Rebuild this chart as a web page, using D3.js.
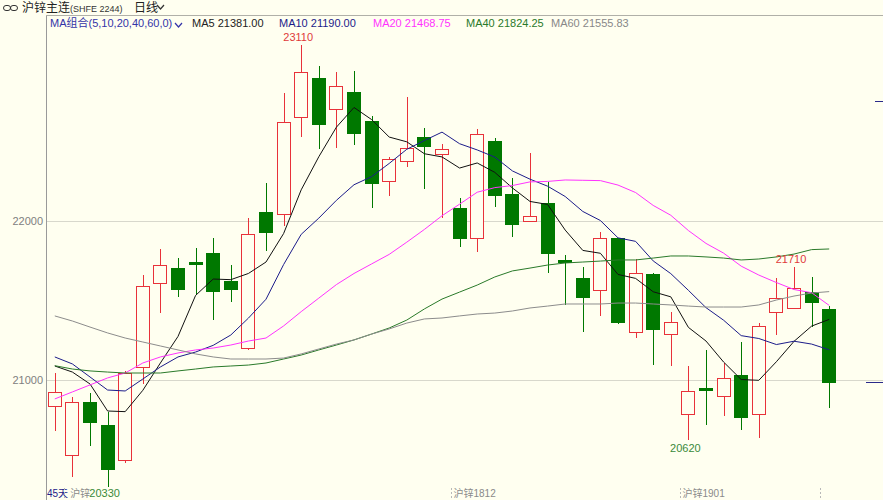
<!DOCTYPE html>
<html>
<head>
<meta charset="utf-8">
<script src="https://cdn.jsdelivr.net/npm/d3@7"></script>
<style>
  html, body { margin: 0; padding: 0; background: #fffff0; }
  svg { display: block; }
  text { font-family: "Liberation Sans", Arial, "Noto Sans CJK SC", sans-serif; }
</style>
</head>
<body>
<script>
// ---------- data ----------
const openP  = [20836,20528,20862,20717,20497,21082,21610,21704,21742,21799,21623,21201,22057,22044,22654,22899,22704,22811,22629,22252,22377,22528,22421,22082,21893,22503,22170,22000,22113,21755,21642,21566,21893,21302,21667,21289,20786,20950,20899,21031,20786,21428,21453,21553,21447];
const highP  = [21044,20893,20918,20799,21057,21660,21824,21767,21830,21893,21723,22019,22239,22805,23110,22975,22937,22943,22660,22403,22780,22585,22484,22145,22579,22522,22270,22428,22245,21786,21711,21931,21893,21761,21673,21428,21088,21189,21107,21239,21358,21642,21710,21648,21465];
const lowP   = [20679,20390,20585,20330,20478,20975,21421,21522,21535,21377,21491,21189,21811,21969,22528,22453,22459,22478,22082,22157,22340,22201,22019,21836,21805,22088,21899,22000,21673,21472,21302,21403,21352,21264,21094,21088,20620,20717,20774,20686,20635,21283,21453,21333,20824];
const closeP = [20925,20862,20736,20440,21044,21591,21723,21572,21730,21560,21572,21918,21931,22623,22937,22610,22849,22553,22239,22390,22459,22472,22453,21893,22547,22164,21981,22031,21799,21742,21522,21893,21365,21673,21321,21365,20931,20937,21013,20767,21340,21516,21579,21491,20987];

const ma5  = [21088,21050,20975,20805,20801,20935,21107,21274,21532,21635,21631,21670,21742,21921,22196,22404,22590,22714,22638,22528,22498,22423,22403,22333,22365,22306,22208,22123,22104,21943,21815,21797,21664,21639,21555,21523,21331,21245,21113,21003,20998,21115,21243,21339,21381];
const ma10 = [21145,21101,21019,20937,20931,21006,21082,21145,21176,21218,21283,21389,21508,21726,21916,22018,22130,22228,22279,22362,22451,22506,22559,22486,22447,22402,22315,22263,22219,22154,22060,22003,21894,21872,21749,21669,21564,21455,21376,21279,21261,21223,21244,21226,21190];
const ma20 = [20881,20925,20969,21013,21044,21107,21145,21170,21189,21201,21220,21245,21264,21340,21430,21515,21600,21670,21730,21790,21867,21947,22033,22106,22181,22210,22223,22246,22249,22258,22256,22254,22226,22179,22098,22036,21940,21859,21798,21716,21660,21613,21569,21549,21469];
const ma40 = [21090,21069,21057,21050,21044,21044,21044,21057,21069,21082,21088,21094,21107,21132,21157,21189,21220,21252,21289,21327,21377,21447,21509,21553,21597,21648,21686,21704,21723,21736,21742,21748,21755,21755,21767,21780,21780,21774,21767,21755,21761,21774,21792,21820,21824];
const ma60 = [21403,21371,21333,21296,21264,21239,21214,21189,21164,21145,21132,21132,21132,21138,21164,21195,21226,21252,21289,21321,21358,21384,21390,21403,21415,21421,21434,21453,21465,21478,21478,21478,21484,21484,21478,21472,21465,21459,21459,21459,21472,21503,21528,21547,21556];

const maNames  = ["MA5", "MA10", "MA20", "MA40", "MA60"];
const maLegend = ["21381.00", "21190.00", "21468.75", "21824.25", "21555.83"];
const yTicks   = [21000, 22000];
const extremeLabels = [
  { index: 14, value: 23110, kind: "high" },
  { index: 42, value: 21710, kind: "high" },
  { index: 36, value: 20620, kind: "low" },
  { index: 3,  value: 20330, kind: "low" }
];
const contractMarks = [
  { index: 1,  label: "沪锌" },
  { index: 23, label: "沪锌1812" },
  { index: 36, label: "沪锌1901" },
  { index: 44, label: "" }
];
const rightMarks = [22755, 20987];

// ---------- drawing ----------
const W = 883, H = 500;
const n = openP.length;
const RED = "#e8323a", GREEN = "#007800";
const maColors = ["#111111", "#1c1c8a", "#ff33ff", "#2a7a2a", "#8c8c8c"];
const maSeries = [ma5, ma10, ma20, ma40, ma60];

const svg = d3.select("body").append("svg").attr("width", W).attr("height", H);
svg.append("rect").attr("width", W).attr("height", H).attr("fill", "#fffff0");

const x = d3.scaleBand().domain(d3.range(n)).range([46, 838]).paddingInner(0.18).paddingOuter(0.09);
const cx = i => x(i) + x.bandwidth() / 2;
const y = d3.scaleLinear().domain([21000, 22000]).range([380, 221]);
const px = v => Math.round(v) + 0.5;

// grid lines
const grid = svg.append("g").attr("transform", "translate(46,0)")
  .call(d3.axisRight(y).tickValues(yTicks).tickSize(W - 46).tickFormat(""));
grid.select(".domain").remove();
grid.selectAll(".tick line").attr("stroke", "#d8d8cc").attr("shape-rendering", "crispEdges");

// y labels
const yl = svg.append("g").attr("transform", "translate(45,0)")
  .call(d3.axisLeft(y).tickValues(yTicks).tickSize(0).tickPadding(2).tickFormat(d3.format("d")));
yl.select(".domain").remove();
yl.selectAll("text").attr("fill", "#808080").attr("font-size", 11)
  .attr("font-family", "'Liberation Sans', Arial, sans-serif");

// frame lines
svg.append("line").attr("x1", 46.5).attr("x2", 46.5).attr("y1", 16).attr("y2", H)
  .attr("stroke", "#9a9a9a");
svg.append("line").attr("x1", 46).attr("x2", W).attr("y1", 15.5).attr("y2", 15.5)
  .attr("stroke", "#b0b0a8");

// candles
const cg = svg.append("g").attr("shape-rendering", "crispEdges");
d3.range(n).forEach(i => {
  const o = openP[i], c = closeP[i], h = highP[i], l = lowP[i];
  const up = c >= o;
  const col = up ? RED : GREEN;
  const top = Math.round(y(Math.max(o, c))), bot = Math.max(Math.round(y(Math.min(o, c))), top + 1);
  const xc = px(cx(i));
  const left = Math.round(cx(i) - 7) + 0.5;
  cg.append("line").attr("x1", xc).attr("x2", xc).attr("y1", Math.round(y(h))).attr("y2", top)
    .attr("stroke", col);
  cg.append("line").attr("x1", xc).attr("x2", xc).attr("y1", bot).attr("y2", Math.round(y(l)))
    .attr("stroke", col);
  cg.append("rect").attr("x", left).attr("y", top + 0.5)
    .attr("width", 13).attr("height", bot - top)
    .attr("fill", up ? "#fffff0" : GREEN).attr("stroke", col);
});

// MA lines
maSeries.forEach((s, k) => {
  svg.append("path").datum(s)
    .attr("d", d3.line().x((d, i) => cx(i)).y(d => y(d)))
    .attr("fill", "none").attr("stroke", maColors[k]).attr("stroke-width", 1);
});

// bottom contract marks
const daysText = svg.append("text").attr("x", 47).attr("y", 497).attr("font-size", 10)
  .attr("fill", "#22228a").attr("font-family", "'Liberation Sans','Noto Sans CJK SC',sans-serif").text("45天");
const daysEnd = 47 + daysText.node().getComputedTextLength();
contractMarks.forEach(m => {
  const bx = Math.round(x(m.index) - x.step() * 0.09) + 0.5;
  svg.append("line").attr("x1", bx).attr("x2", bx).attr("y1", 488).attr("y2", 498)
    .attr("stroke", "#b8b8b8").attr("stroke-dasharray", "2,2");
  if (m.label) svg.append("text").attr("x", Math.max(bx + 2, daysEnd + 2)).attr("y", 497).attr("font-size", 10)
    .attr("fill", "#8a8a8a").attr("font-family", "'Liberation Sans','Noto Sans CJK SC',sans-serif")
    .text(m.label);
});

// extreme labels
extremeLabels.forEach(e => {
  const isHigh = e.kind === "high";
  let ty = isHigh ? y(e.value) - 4 : y(e.value) + 12;
  if (ty > 497) ty = 497;
  svg.append("text").attr("x", cx(e.index) - 3).attr("y", ty)
    .attr("text-anchor", "middle").attr("font-size", 11)
    .attr("fill", isHigh ? "#e03a3a" : "#3a8a3a").text(e.value);
});

// right-edge markers
rightMarks.forEach((v, k) => {
  svg.append("line").attr("x1", k === 0 ? 875 : 866).attr("x2", W)
    .attr("y1", px(y(v))).attr("y2", px(y(v))).attr("stroke", "#2a2a8a");
});

// header row 1
const hdr = svg.append("g");
hdr.append("rect").attr("x", 3.5).attr("y", 5.5).attr("width", 7).attr("height", 5).attr("rx", 2.5)
  .attr("fill", "none").attr("stroke", "#333");
hdr.append("rect").attr("x", 10.5).attr("y", 5.5).attr("width", 7).attr("height", 5).attr("rx", 2.5)
  .attr("fill", "none").attr("stroke", "#333");
hdr.append("text").attr("x", 22).attr("y", 12).attr("font-size", 12).attr("fill", "#222")
  .attr("font-family", "'Noto Sans CJK SC',sans-serif").text("沪锌主连");
hdr.append("text").attr("x", 70).attr("y", 12).attr("font-size", 9).attr("fill", "#333")
  .attr("font-family", "'DejaVu Sans Mono',monospace").text("(SHFE 2244)");
hdr.append("text").attr("x", 134).attr("y", 12).attr("font-size", 12).attr("fill", "#222")
  .attr("font-family", "'Noto Sans CJK SC',sans-serif").text("日线");
hdr.append("path").attr("d", "M157,5 L160.5,9 L164,5").attr("fill", "none").attr("stroke", "#333").attr("stroke-width", 1.2);

// header row 2 (MA legend)
hdr.append("text").attr("x", 50).attr("y", 27).attr("font-size", 11).attr("fill", "#3434a8")
  .attr("font-family", "'Liberation Sans','Noto Sans CJK SC',sans-serif").text("MA组合(5,10,20,40,60,0)");
hdr.append("path").attr("d", "M175,23 L178.5,27 L182,23").attr("fill", "none").attr("stroke", "#3434a8").attr("stroke-width", 1.2);
const legendX = [192, 279, 373, 466, 551];
maNames.forEach((nm, k) => {
  hdr.append("text").attr("x", legendX[k]).attr("y", 27).attr("font-size", 11)
    .attr("fill", k === 0 ? "#222" : (k === 4 ? "#888" : maColors[k]))
    .text(nm + " " + maLegend[k]);
});
</script>
</body>
</html>
